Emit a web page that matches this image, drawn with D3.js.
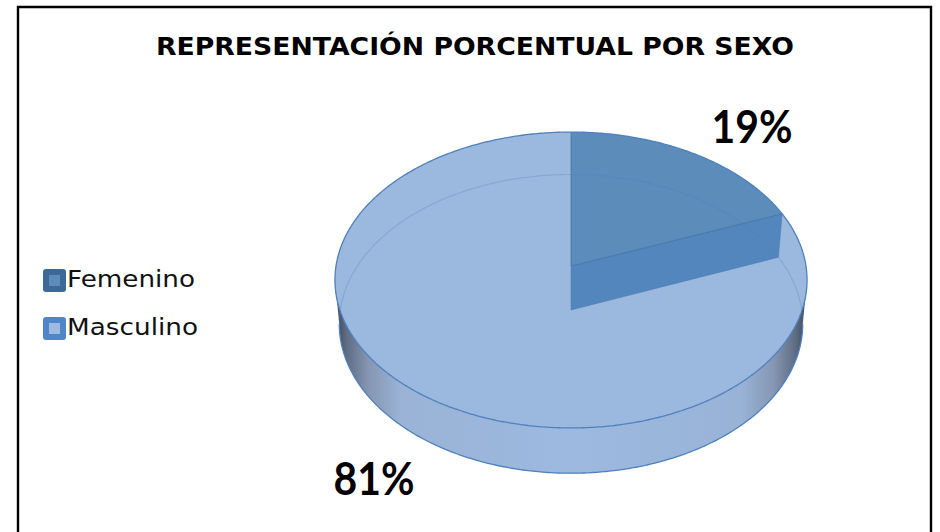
<!DOCTYPE html>
<html>
<head>
<meta charset="utf-8">
<script src="https://cdn.jsdelivr.net/npm/d3@7"></script>
<style>
  html, body { margin: 0; padding: 0; background: #fff; }
  svg { display: block; }
</style>
</head>
<body>
<svg id="chart" width="940" height="532"></svg>
<script>
// ---- data ----
const title = "REPRESENTACIÓN PORCENTUAL POR SEXO";
const categories = ["Femenino", "Masculino"];
const values = [19, 81];

// ---- styling ----
const topColors = ["#5b8cba", "#9bb8de"];
const cutColors = ["#5286bd", "#8fb0da"];
const legendOuter = ["#3c6997", "#4f86c9"];
const legendInner = ["#5b8cba", "#9dbbe0"];
const rimStroke = "#4f81bd";

const svg = d3.select("#chart");
const defs = svg.append("defs");

// ---- frame ----
svg.append("path")
  .attr("d", "M18,540 L18,7 L931,7 L931,540")
  .attr("fill", "none").attr("stroke", "#000").attr("stroke-width", 2.4);

// ---- title ----
svg.append("text")
  .attr("x", 475).attr("y", 55)
  .attr("text-anchor", "middle")
  .attr("font-family", "'DejaVu Sans', sans-serif")
  .attr("font-weight", "bold").attr("font-size", 24)
  .attr("textLength", 638).attr("lengthAdjust", "spacingAndGlyphs")
  .attr("fill", "#000")
  .text(title);

// ---- perspective projection of a tilted disc ----
const cam = { cx: 571, cy: 266, f: 1941, D: 8.26, sinE: 0.624, depth: 0.244 };
cam.cosE = Math.sqrt(1 - cam.sinE * cam.sinE);
// theta: clockwise from the far point, r: radius fraction, z: 0 = top face, -depth = bottom face
function project(theta, r, z) {
  const X = r * Math.sin(theta), Y = r * Math.cos(theta);
  const yc = Y * cam.sinE + z * cam.cosE;
  const zc = cam.D + Y * cam.cosE - z * cam.sinE;
  return [cam.cx + cam.f * X / zc, cam.cy - cam.f * yc / zc];
}
const zTop = 0, zBot = -cam.depth;

function rimPoints(a0, a1, z) {
  const n = Math.max(2, Math.ceil(Math.abs(a1 - a0) / 0.01));
  return d3.range(n + 1).map(i => project(a0 + (a1 - a0) * i / n, 1, z));
}
const line = d3.line();

// silhouette angles (extreme x of the top rim)
const samples = d3.range(0, 2 * Math.PI, 0.002);
const thetaRight = samples.reduce((a, t) => project(t, 1, zTop)[0] > project(a, 1, zTop)[0] ? t : a, 0);
const thetaLeft = samples.reduce((a, t) => project(t, 1, zTop)[0] < project(a, 1, zTop)[0] ? t : a, 0);
const xLeft = project(thetaLeft, 1, zTop)[0], xRight = project(thetaRight, 1, zTop)[0];

const pie = d3.pie().sort(null).value(d => d);
const arcs = pie(values);

// ---- side wall gradient ----
const grad = defs.append("linearGradient").attr("id", "wallGrad")
  .attr("gradientUnits", "userSpaceOnUse")
  .attr("x1", xLeft).attr("x2", xRight).attr("y1", 0).attr("y2", 0);
[[0, "#3d4656"], [0.025, "#5f6d84"], [0.07, "#8596b2"], [0.14, "#9ab3d6"],
 [0.5, "#9db9df"], [0.86, "#99b3d7"], [0.93, "#8596b2"], [0.975, "#5f6d84"], [1, "#3d4656"]]
  .forEach(([o, c]) => grad.append("stop").attr("offset", o).attr("stop-color", c));

const g = svg.append("g");

// outer walls of the slices that face the viewer
arcs.forEach((a, i) => {
  const s = Math.max(a.startAngle, thetaRight), e = Math.min(a.endAngle, thetaLeft);
  if (e <= s) return;
  const pts = rimPoints(s, e, zTop).concat(rimPoints(e, s, zBot));
  g.append("path").attr("d", line(pts) + "Z").attr("fill", "url(#wallGrad)");
  g.append("path").attr("d", line(rimPoints(s, e, zBot)))
    .attr("fill", "none").attr("stroke", rimStroke).attr("stroke-width", 1.3);
});

// top faces and the cut face of the small slice
function sectorPath(a0, a1, z) {
  const c = project(0, 0, z);
  return line([c].concat(rimPoints(a0, a1, z))) + "Z";
}
arcs.forEach((a, i) => {
  if (i === 0) return;
  g.append("path").attr("d", sectorPath(a.startAngle, a.endAngle, zTop))
    .attr("fill", topColors[i]);
});
arcs.forEach((a, i) => {
  if (i !== 0) return;
  const t = a.endAngle;
  const cut = [project(0, 0, zTop), project(t, 1, zTop), project(t, 1, zBot), project(0, 0, zBot)];
  g.append("path").attr("d", line(cut) + "Z")
    .attr("fill", cutColors[i]).attr("stroke", "#4a7bb0").attr("stroke-width", 0.8)
    .attr("stroke-opacity", 0.6);
  g.append("path").attr("d", sectorPath(a.startAngle, a.endAngle, zTop))
    .attr("fill", topColors[i]);
});

// see-through back rim of the bottom face
g.append("path")
  .attr("d", line(rimPoints(thetaLeft - 2 * Math.PI, thetaRight, zBot)))
  .attr("fill", "none").attr("stroke", "#4f81bd").attr("stroke-width", 1.1)
  .attr("stroke-opacity", 0.3);

// slice boundary on the top face
arcs.forEach(a => {
  g.append("path")
    .attr("d", line([project(0, 0, zTop), project(a.startAngle, 1, zTop)]))
    .attr("stroke", "#3f6f9f").attr("stroke-width", 1).attr("stroke-opacity", 0.7);
});

// top rim outline
g.append("path").attr("d", line(rimPoints(0, 2 * Math.PI, zTop)) + "Z")
  .attr("fill", "none").attr("stroke", rimStroke).attr("stroke-width", 1.3);

// ---- percentage labels ----
const total = d3.sum(values);
arcs.forEach((a, i) => {
  const mid = (a.startAngle + a.endAngle) / 2;
  const front = Math.cos(mid) < 0;
  const [px, py] = project(mid, 1, front ? zBot : zTop);
  const right = Math.sin(mid) > 0;
  svg.append("text")
    .attr("x", right ? px + 18 : px - 16)
    .attr("y", front ? py + 52 : py - 11)
    .attr("text-anchor", right ? "start" : "end")
    .attr("font-family", "Lato, 'DejaVu Sans', sans-serif")
    .attr("font-weight", "bold").attr("font-size", 45)
    .attr("textLength", 81).attr("lengthAdjust", "spacingAndGlyphs")
    .attr("fill", "#000")
    .text(Math.round(values[i] / total * 100) + "%");
});

// ---- legend ----
const legend = svg.append("g");
categories.forEach((c, i) => {
  const y = 269 + i * 48;
  legend.append("rect").attr("x", 43).attr("y", y).attr("width", 23).attr("height", 23)
    .attr("rx", 3).attr("fill", legendOuter[i]);
  legend.append("rect").attr("x", 49).attr("y", y + 6).attr("width", 11).attr("height", 11)
    .attr("fill", legendInner[i]);
  legend.append("text")
    .attr("x", 67).attr("y", y + 18)
    .attr("font-family", "'DejaVu Sans', sans-serif")
    .attr("font-size", 23)
    .attr("textLength", i === 0 ? 128 : 131).attr("lengthAdjust", "spacingAndGlyphs")
    .attr("fill", "#111")
    .text(c);
});
</script>
</body>
</html>
